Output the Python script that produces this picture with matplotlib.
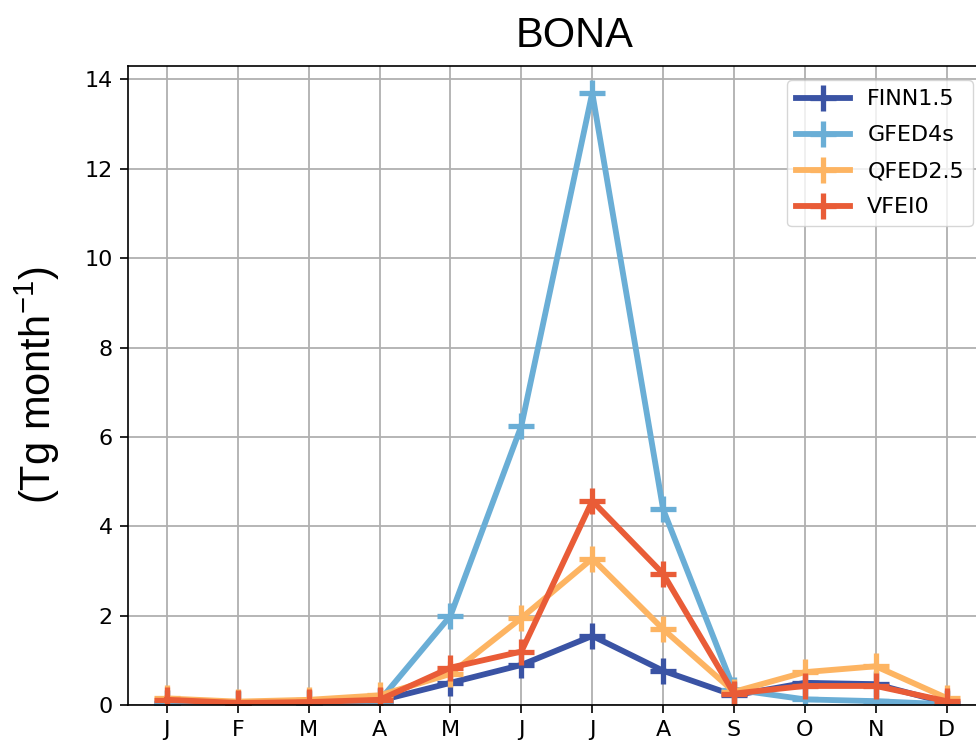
"""
BONA monthly emissions by inventory
"""
import matplotlib
matplotlib.use('Agg')
import matplotlib.pyplot as plt

months = ['J', 'F', 'M', 'A', 'M', 'J', 'J', 'A', 'S', 'O', 'N', 'D']

finn = [0.05, 0.03, 0.05, 0.1, 0.5, 0.9, 1.55, 0.77, 0.22, 0.5, 0.47, 0.05]
gfed = [0.05, 0.02, 0.03, 0.1, 2.0, 6.25, 13.7, 4.38, 0.35, 0.13, 0.09, 0.02]
qfed = [0.15, 0.08, 0.12, 0.22, 0.7, 1.95, 3.28, 1.7, 0.3, 0.74, 0.87, 0.16]
vfei = [0.12, 0.05, 0.07, 0.12, 0.84, 1.2, 4.57, 2.94, 0.26, 0.43, 0.43, 0.09]

series = [
    ('FINN1.5', finn, '#3a53a4'),
    ('GFED4s', gfed, '#6aaed6'),
    ('QFED2.5', qfed, '#fdb462'),
    ('VFEI0', vfei, '#e95c37'),
]

plt.rcParams['mathtext.default'] = 'regular'
plt.rcParams['axes.linewidth'] = 1.2

fig = plt.figure(figsize=(9.76, 7.51), dpi=100)
# right spine sits just outside the picture, as in the original
ax = fig.add_axes([0.131, 0.061, 0.879, 0.851])

x = list(range(len(months)))
for name, vals, color in series:
    ax.plot(x, vals, color=color, lw=4.2, marker='+', markersize=19,
            markeredgewidth=3.8, label=name)

ax.set_xticks(x)
ax.set_xticklabels(months)
ax.set_xlim(-0.55, 11.55)
ax.set_ylim(0, 14.3)
ax.set_yticks(range(0, 15, 2))
ax.tick_params(labelsize=16, length=6, width=1.2, pad=5)
ax.grid(True, color='#b0b0b0', lw=1.3)
ax.set_axisbelow(True)

ax.set_title('BONA', fontsize=30, family='Liberation Sans', pad=14, x=0.521)
ax.set_ylabel('(Tg month$^{-1}$)', fontsize=30, family='Liberation Sans',
              labelpad=16)
ax.legend(loc='upper right', fontsize=16, handlelength=2.4, labelspacing=0.72,
          bbox_to_anchor=(0.998, 0.995))

fig.savefig('out.png', dpi=100)
